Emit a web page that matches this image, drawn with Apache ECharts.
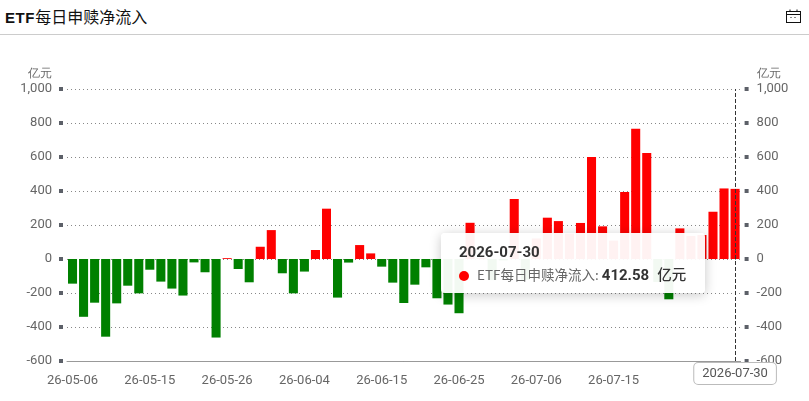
<!DOCTYPE html>
<html><head><meta charset="utf-8">
<style>html,body{margin:0;padding:0;background:#fff;width:809px;height:401px;overflow:hidden}
#head{position:absolute;left:0;top:0;width:809px;height:34px;border-bottom:1px solid #ccc;box-sizing:content-box}
#title{position:absolute;left:5px;top:4px;font:400 16px "Noto Sans CJK SC",sans-serif;color:#111;line-height:24px;white-space:nowrap}
#title b{font:bold 15px "Liberation Sans",sans-serif;letter-spacing:.6px}
#chart{position:absolute;left:0;top:35px;width:809px;height:366px}
#icon{position:absolute;left:786px;top:9px}
</style></head><body>
<div id="head"><div id="title"><b>ETF</b>每日申赎净流入</div>
<svg id="icon" width="15" height="15" viewBox="0 0 15 15" fill="none" stroke="#111" stroke-width="1"><rect x="0.5" y="2.5" width="14" height="11"/><path d="M0.5 5.5H14.5M4 0.5V3M11 0.5V3M4.5 8.5H5.5M8.5 8.5H9.5"/></svg></div>
<div id="chart"></div>
<script src="https://cdn.jsdelivr.net/npm/echarts@6/dist/echarts.min.js"></script>
<script>
const dates = ['2026-05-06','2026-05-07','2026-05-08','2026-05-11','2026-05-12','2026-05-13','2026-05-14','2026-05-15','2026-05-18','2026-05-19','2026-05-20','2026-05-21','2026-05-22','2026-05-25','2026-05-26','2026-05-27','2026-05-28','2026-05-29','2026-06-01','2026-06-02','2026-06-03','2026-06-04','2026-06-05','2026-06-08','2026-06-09','2026-06-10','2026-06-11','2026-06-12','2026-06-15','2026-06-16','2026-06-17','2026-06-18','2026-06-22','2026-06-23','2026-06-24','2026-06-25','2026-06-26','2026-06-29','2026-06-30','2026-07-01','2026-07-02','2026-07-03','2026-07-06','2026-07-07','2026-07-08','2026-07-09','2026-07-10','2026-07-13','2026-07-14','2026-07-15','2026-07-16','2026-07-17','2026-07-20','2026-07-21','2026-07-22','2026-07-23','2026-07-24','2026-07-27','2026-07-28','2026-07-29','2026-07-30'];
const values = [-145,-340,-257,-457,-261,-157,-202,-63,-133,-174,-215,-20,-78,-462,5,-59,-137,72,170,-84,-202,-74,53,296,-227,-21,82,33,-45,-139,-259,-151,-49,-231,-268,-319,213,5,-124,-8,353,-122,121,243,223,150,212,600,192,108,394,766,623,-135,-237,180,135,141,278,415,412.58];
const yMin=-600,yMax=1000,yStep=200,unit='亿元',seriesName='ETF每日申赎净流入';
const axisText={color:'#666',fontSize:13,fontFamily:'Roboto,"Noto Sans CJK SC",sans-serif'};
const c=echarts.init(document.getElementById('chart'),null,{renderer:'canvas'});
const yBase={type:'value',min:yMin,max:yMax,interval:yStep,offset:4,nameGap:9,
  axisLine:{show:false},
  axisTick:{show:true,length:4,lineStyle:{width:4,color:'#5c6068'}},
  axisPointer:{show:false}};
const last=dates.length-1;
const tickAt=i=>i%7===0||i===last;
const labelAt=i=>(i%7===0&&i!==56)||i===last;
c.setOption({animation:false,
 grid:{left:67,right:68.4,top:54,bottom:40,containLabel:false},
 tooltip:{trigger:'axis',alwaysShowContent:true,
  backgroundColor:'rgba(255,255,255,0.95)',borderWidth:0,padding:0,
  extraCssText:'box-shadow:0 2px 12px rgba(0,0,0,.22);border-radius:4px;width:264px;height:60px;box-sizing:border-box;padding:8px 0 0 18px;',
  axisPointer:{type:'line',lineStyle:{type:'dashed',color:'#333',width:1},label:{show:true}},
  position:()=>[441,198],
  formatter:ps=>{const p=ps[0];return '<div style="font:bold 15px Roboto,sans-serif;color:#333;line-height:22px;">'+p.name+'</div>'+
   '<div style="font:13.5px \'Noto Sans CJK SC\',sans-serif;color:#666;line-height:22px;white-space:nowrap;margin-top:0px"><span style="display:inline-block;width:10px;height:10px;border-radius:50%;background:#f00;margin-right:8px;vertical-align:-0.5px"></span>'+seriesName+': <b style="font:bold 15px Roboto,sans-serif;color:#333;">'+p.value+'</b><b style="color:#333;font:500 14.5px \'Noto Sans CJK SC\',sans-serif;margin-left:8px">'+unit+'</b></div>';}},
 xAxis:{type:'category',data:dates,
  axisLine:{lineStyle:{color:'#999'},onZero:false},
  axisTick:{alignWithLabel:false,interval:tickAt,length:4,lineStyle:{color:'#444'}},
  axisLabel:{...axisText,interval:labelAt,margin:13,hideOverlap:false,formatter:v=>v.slice(2)},
  axisPointer:{label:{show:true,backgroundColor:'#fff',color:'#555',borderColor:'#bbb',borderWidth:1,fontSize:13,fontFamily:'Roboto,sans-serif',padding:[4,8],borderRadius:4,shadowBlur:0,margin:2}}},
 yAxis:[
  {...yBase,name:unit,position:'left',nameTextStyle:{color:'#666',fontSize:12,align:'right',padding:[0,11,0,0]},
   splitLine:{show:true,lineStyle:{type:[1,3],color:'#888'}},
   axisLabel:{...axisText,margin:11,formatter:v=>v.toLocaleString('en-US')}},
  {...yBase,name:unit,position:'right',nameTextStyle:{color:'#666',fontSize:12,align:'left',padding:[0,0,0,12]},
   splitLine:{show:false},
   axisLabel:{...axisText,margin:12,formatter:v=>v.toLocaleString('en-US')}}],
 series:[{name:seriesName,type:'bar',barWidth:'82%',
   data:values.map(v=>({value:v,itemStyle:{color:v>=0?'#ff0000':'#008000'}}))}]
});
c.dispatchAction({type:'showTip',seriesIndex:0,dataIndex:last});
</script></body></html>
